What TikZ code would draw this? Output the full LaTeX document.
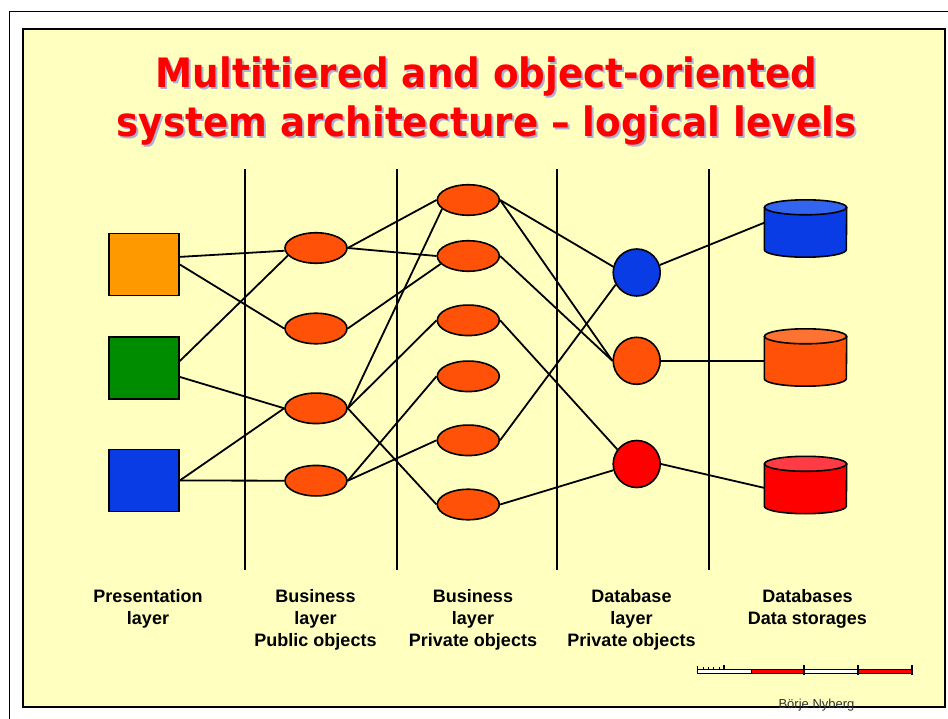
\documentclass[tikz,border=0pt]{standalone}
\usepackage{fontspec}
\setmainfont{Liberation Sans}
\newfontfamily\titlefont[FakeStretch=0.92]{DejaVu Sans}
\usetikzlibrary{shapes.geometric,calc}

\definecolor{panel}{RGB}{255,255,192}
\definecolor{sqorange}{RGB}{255,153,0}
\definecolor{sqgreen}{RGB}{0,140,0}
\definecolor{objblue}{RGB}{10,60,230}
\definecolor{objorange}{RGB}{255,82,8}
\definecolor{objred}{RGB}{255,0,0}
\definecolor{topblue}{RGB}{50,100,240}
\definecolor{toporange}{RGB}{255,115,50}
\definecolor{topred}{RGB}{255,60,70}
\definecolor{titlered}{RGB}{255,0,0}
\definecolor{titleshade}{RGB}{175,175,210}
\definecolor{authorgrey}{RGB}{50,50,50}

% cylinder drawn over the box of a storage node: #1 node, #2 body, #3 lid
\newcommand\drawstore[3]{%
  \draw[line width=1.6pt, fill=#2, line join=round]
    ([yshift=-7.5pt]#1.north west) -- ([yshift=7.5pt]#1.south west)
    arc[start angle=180, end angle=360, x radius=41pt, y radius=7.5pt]
    -- ([yshift=-7.5pt]#1.north east) -- cycle;
  \draw[line width=1.6pt, fill=#3]
    ([yshift=-7.5pt]#1.north) ellipse[x radius=41pt, y radius=7.5pt];
}

\begin{document}
\begin{tikzpicture}[x=1pt, y=-1pt,
  titletext/.style={anchor=base, inner sep=0pt,
    font=\titlefont\bfseries\fontsize{40.5}{48}\selectfont},
  divider/.style={line width=1.6pt},
  tierbox/.style={rectangle, draw, line width=1.6pt, inner sep=0pt,
    minimum width=70pt, minimum height=62pt},
  obj/.style={ellipse, draw, line width=1.6pt, inner sep=0pt,
    fill=objorange, minimum width=62pt, minimum height=30.5pt},
  dbobj/.style={circle, draw, line width=1.6pt, inner sep=0pt,
    minimum size=47pt},
  store/.style={rectangle, inner sep=0pt, minimum width=82pt,
    minimum height=57pt},
  wire/.style={line width=1.8pt},
  lbl/.style={anchor=north, align=center, inner sep=0pt,
    font=\bfseries\fontsize{18}{22}\selectfont}]

\useasboundingbox (0,0) rectangle (948,719);
\fill[white] (0,0) rectangle (948,719);
\draw[line width=1pt] (9,719) -- (9,11.5) -- (948,11.5);

% slide panel
\draw[line width=2pt, fill=panel] (22.5,29.5) rectangle (944.5,706.5);

% heading with its shadow
\node[titletext, text=titleshade] (t1s) at (488.5,90) {Multitiered and object-oriented};
\node[titletext, text=titlered]   (t1)  at (486.5,88) {Multitiered and object-oriented};
\node[titletext, text=titleshade] (t2s) at (488.5,139) {system architecture – logical levels};
\node[titletext, text=titlered]   (t2)  at (486.5,137) {system architecture – logical levels};

% tier separators
\foreach \x in {245,397,557,709}
  \draw[divider] (\x,169) -- (\x,570);

% presentation layer
\node[tierbox, fill=sqorange] (Q1) at (144,264.5) {};
\node[tierbox, fill=sqgreen]  (Q2) at (144,368) {};
\node[tierbox, fill=objblue]  (Q3) at (144,480.5) {};

% business layer, public objects
\node[obj] (B1) at (316,248) {};
\node[obj] (B2) at (316,328.5) {};
\node[obj] (B3) at (316,408.3) {};
\node[obj] (B4) at (316,480.7) {};

% business layer, private objects
\node[obj] (P1) at (468.3,200) {};
\node[obj] (P2) at (468.3,256) {};
\node[obj] (P3) at (468.3,320.3) {};
\node[obj] (P4) at (468.3,376.3) {};
\node[obj] (P5) at (468.3,440.3) {};
\node[obj] (P6) at (468.3,504.5) {};

% database layer
\node[dbobj, fill=objblue]   (D1) at (636.7,272.5) {};
\node[dbobj, fill=objorange] (D2) at (636.7,360.8) {};
\node[dbobj, fill=objred]    (D3) at (636.7,464) {};

% data storages
\node[store] (S1) at (805.5,228.5) {};
\node[store] (S2) at (805.5,357.5) {};
\node[store] (S3) at (805.5,485) {};
\drawstore{S1}{objblue}{topblue}
\drawstore{S2}{objorange}{toporange}
\drawstore{S3}{objred}{topred}

% links
\draw[wire] (Q1.12) -- (B1.185);
\draw[wire] (Q1.east) -- (B2.west);
\draw[wire] (Q2.11) -- (B1.195);
\draw[wire] (Q2.-14) -- (B3.west);
\draw[wire] (Q3.east) -- (B3.west);
\draw[wire] (Q3.east) -- (B4.west);

\draw[wire] (B1.east) -- (P1.west);
\draw[wire] (B1.east) -- (P2.west);
\draw[wire] (B2.east) -- (P2.196);
\draw[wire] (B3.east) -- (P1.199);
\draw[wire] (B3.east) -- (P3.west);
\draw[wire] (B3.east) -- (P6.west);
\draw[wire] (B4.east) -- (P4.west);
\draw[wire] (B4.east) -- (P5.west);

\draw[wire] (P1.east) -- (D1.166);
\draw[wire] (P1.east) -- (D2.west);
\draw[wire] (P2.east) -- (D2.west);
\draw[wire] (P3.east) -- (D3.143);
\draw[wire] (P5.east) -- (D1.210);
\draw[wire] (P6.east) -- (D3.195);

\draw[wire] (D1.18) -- (S1.172);
\draw[wire] (D2.east) -- (D2.east -| S2.west);
\draw[wire] (D3.east) -- (S3.184);

% captions
\node[lbl] (L1) at (148,589.5) {Presentation\\layer};
\node[lbl] (L2) at (315.5,589.5) {Business\\layer\\Public objects};
\node[lbl] (L3) at (473,589.5) {Business\\layer\\Private objects};
\node[lbl] (L4) at (631.5,589.5) {Database\\layer\\Private objects};
\node[lbl] (L5) at (807.5,589.5) {Databases\\Data storages};

% scale bar
\draw[line width=0.8pt, fill=white]  (697,669) rectangle (751,673.5);
\draw[line width=0.8pt, fill=objred] (751,669) rectangle (804,673.5);
\draw[line width=0.8pt, fill=white]  (804,669) rectangle (858,673.5);
\draw[line width=0.8pt, fill=objred] (858,669) rectangle (912,673.5);
\foreach \x in {804,858,912}
  \draw[line width=2.2pt] (\x,665) -- (\x,674.5);
\draw[line width=0.8pt] (697,666) -- (697,674);
\foreach \x in {703,708,713,719}
  \draw[line width=0.8pt] (\x,667) -- (\x,669);
\draw[line width=2pt] (724,665) -- (724,669);

\node[anchor=base, inner sep=0pt, text=authorgrey,
  font=\fontsize{13}{15}\selectfont] (author) at (816.5,708.5) {Börje Nyberg};

\end{tikzpicture}
\end{document}
